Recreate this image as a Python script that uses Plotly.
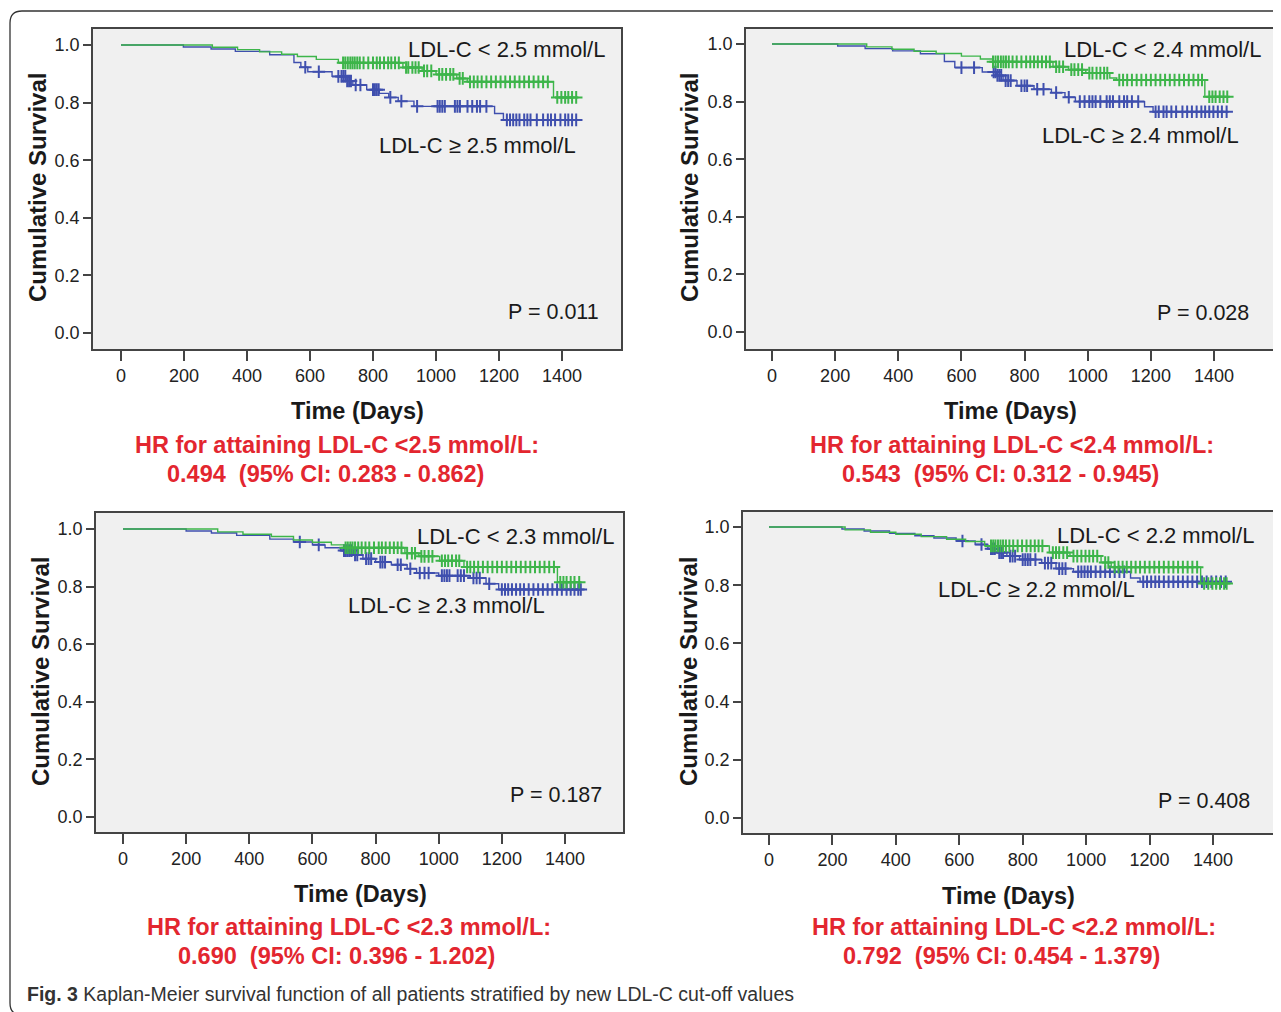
import plotly.graph_objects as go

W, H = 1281, 1012

# ---------------- data ----------------
# Top-left panel: cut-off 2.5 mmol/L
tl_green_t = [0, 290, 370, 440, 510, 560, 620, 690, 895, 956, 1000, 1066, 1099, 1373, 1450]
tl_green_s = [1.0, 0.992, 0.984, 0.976, 0.968, 0.960, 0.950, 0.938, 0.922, 0.910, 0.898, 0.884, 0.872, 0.818, 0.818]
tl_blue_t = [0, 198, 286, 363, 472, 549, 571, 593, 670, 714, 736, 780, 820, 850, 880, 930, 1186, 1214, 1450]
tl_blue_s = [1.0, 0.993, 0.986, 0.978, 0.966, 0.939, 0.923, 0.907, 0.891, 0.875, 0.861, 0.845, 0.832, 0.818, 0.805, 0.787, 0.762, 0.740, 0.740]
tl_green_cens = [705, 712, 720, 728, 735, 742, 750, 758, 770, 785, 800, 812, 822, 835, 848, 858, 870, 882,
                 905, 912, 925, 935, 945, 962, 972, 985, 1010, 1020, 1032, 1045, 1055, 1075, 1085, 1108,
                 1120, 1132, 1145, 1160, 1175, 1190, 1205, 1220, 1235, 1250, 1265, 1280, 1295, 1310, 1325,
                 1340, 1355, 1385, 1398, 1410, 1420, 1432, 1445]
tl_blue_cens = [585, 628, 690, 700, 706, 712, 718, 724, 730, 745, 760, 800, 806, 812, 818, 855, 890, 940,
                1005, 1012, 1020, 1028, 1060, 1068, 1076, 1100, 1115, 1130, 1140, 1160, 1225, 1235, 1245,
                1255, 1265, 1280, 1290, 1300, 1320, 1340, 1355, 1365, 1378, 1395, 1410, 1420, 1432, 1445]

# Top-right panel: cut-off 2.4 mmol/L
tr_green_t = [0, 300, 380, 450, 520, 600, 660, 700, 890, 939, 994, 1070, 1092, 1371, 1447]
tr_green_s = [1.0, 0.990, 0.982, 0.975, 0.967, 0.958, 0.948, 0.938, 0.921, 0.911, 0.899, 0.882, 0.875, 0.817, 0.817]
tr_blue_t = [0, 208, 295, 382, 470, 546, 579, 666, 710, 732, 776, 830, 885, 928, 961, 1180, 1207, 1447]
tr_blue_s = [1.0, 0.993, 0.984, 0.976, 0.966, 0.939, 0.918, 0.903, 0.891, 0.873, 0.855, 0.843, 0.831, 0.815, 0.800, 0.782, 0.765, 0.765]
tr_green_cens = [700, 708, 716, 725, 733, 741, 750, 762, 775, 790, 805, 818, 830, 842, 855, 868, 880, 900,
                 910, 922, 948, 958, 970, 982, 1005, 1015, 1028, 1040, 1052, 1062, 1100, 1112, 1125, 1140,
                 1155, 1170, 1185, 1200, 1215, 1230, 1245, 1260, 1275, 1290, 1305, 1320, 1335, 1350, 1362,
                 1385, 1395, 1405, 1418, 1430, 1442]
tr_blue_cens = [600, 640, 702, 708, 714, 720, 726, 740, 748, 756, 790, 800, 808, 840, 860, 900, 940, 975,
                990, 1005, 1015, 1025, 1040, 1060, 1070, 1080, 1100, 1115, 1125, 1140, 1160, 1215, 1225,
                1240, 1250, 1265, 1280, 1300, 1315, 1330, 1345, 1360, 1372, 1385, 1398, 1412, 1425, 1440]

# Bottom-left panel: cut-off 2.3 mmol/L
bl_green_t = [0, 300, 380, 470, 540, 600, 660, 700, 893, 937, 1003, 1080, 1376, 1453]
bl_green_s = [1.0, 0.990, 0.982, 0.974, 0.962, 0.954, 0.945, 0.935, 0.916, 0.905, 0.890, 0.868, 0.815, 0.815]
bl_blue_t = [0, 200, 280, 360, 465, 540, 600, 640, 690, 730, 760, 800, 850, 900, 930, 1000, 1100, 1150, 1190, 1453]
bl_blue_s = [1.0, 0.993, 0.986, 0.978, 0.965, 0.955, 0.945, 0.935, 0.925, 0.910, 0.897, 0.885, 0.876, 0.862, 0.847, 0.838, 0.830, 0.810, 0.790, 0.790]
bl_green_cens = [705, 712, 720, 727, 735, 745, 756, 768, 780, 795, 810, 820, 832, 845, 858, 870, 882, 900,
                 915, 925, 945, 955, 968, 980, 1010, 1020, 1030, 1042, 1055, 1065, 1090, 1100, 1112, 1125,
                 1140, 1155, 1170, 1185, 1200, 1215, 1230, 1245, 1260, 1275, 1290, 1305, 1320, 1335, 1350,
                 1365, 1385, 1395, 1405, 1418, 1430, 1445]
bl_blue_cens = [560, 620, 700, 706, 712, 718, 724, 735, 742, 770, 778, 786, 815, 822, 830, 870, 880, 910,
                940, 955, 968, 1010, 1018, 1026, 1034, 1060, 1070, 1080, 1110, 1120, 1130, 1160, 1200, 1210,
                1220, 1232, 1245, 1258, 1270, 1285, 1300, 1315, 1330, 1345, 1360, 1375, 1390, 1405, 1418,
                1430, 1442, 1450]

# Bottom-right panel: cut-off 2.2 mmol/L
br_green_t = [0, 240, 320, 400, 480, 560, 620, 680, 884, 949, 1047, 1079, 1361, 1443]
br_green_s = [1.0, 0.990, 0.982, 0.975, 0.967, 0.958, 0.950, 0.935, 0.912, 0.900, 0.878, 0.862, 0.806, 0.806]
br_blue_t = [0, 230, 300, 380, 460, 520, 590, 650, 690, 720, 750, 790, 860, 905, 960, 1140, 1170, 1443]
br_blue_s = [1.0, 0.993, 0.986, 0.978, 0.970, 0.962, 0.952, 0.940, 0.925, 0.912, 0.900, 0.888, 0.876, 0.857, 0.846, 0.825, 0.812, 0.812]
br_green_cens = [700, 707, 714, 722, 730, 738, 747, 758, 770, 784, 798, 812, 825, 838, 850, 862, 895, 905,
                 915, 928, 940, 960, 972, 985, 998, 1010, 1022, 1035, 1060, 1070, 1090, 1102, 1115, 1128,
                 1142, 1156, 1170, 1185, 1200, 1215, 1230, 1245, 1260, 1275, 1290, 1305, 1320, 1335, 1350,
                 1372, 1385, 1398, 1410, 1422, 1435, 1443]
br_blue_cens = [610, 670, 700, 706, 712, 726, 732, 738, 760, 768, 776, 800, 808, 816, 824, 840, 870, 880,
                890, 915, 925, 935, 975, 985, 995, 1005, 1015, 1030, 1045, 1060, 1075, 1090, 1105, 1120,
                1180, 1192, 1205, 1218, 1230, 1245, 1260, 1275, 1290, 1305, 1320, 1335, 1350, 1365, 1380,
                1395, 1410, 1425, 1440]

x_ticks = [0, 200, 400, 600, 800, 1000, 1200, 1400]
y_ticks = [0.0, 0.2, 0.4, 0.6, 0.8, 1.0]
y_ticklabels = ["0.0", "0.2", "0.4", "0.6", "0.8", "1.0"]

cutoffs = ["2.5", "2.4", "2.3", "2.2"]
p_values = ["0.011", "0.028", "0.187", "0.408"]
hr_values = ["0.494", "0.543", "0.690", "0.792"]
ci_low = ["0.283", "0.312", "0.396", "0.454"]
ci_high = ["0.862", "0.945", "1.202", "1.379"]

# ---------------- layout geometry (window pixels) ----------------
OFF = 8  # the page body margin that offsets the figure inside the window
panels = [
    dict(box=(93, 621, 29, 349), tx=(121, 562), sy=(45, 333)),
    dict(box=(746, 1273, 29, 349), tx=(772, 1214), sy=(44, 332)),
    dict(box=(96, 623, 513, 832), tx=(123, 565), sy=(529, 817)),
    dict(box=(743, 1273, 512, 833), tx=(769, 1213), sy=(527, 818)),
]
text_pos = [
    dict(lt=(506, 50), ge=(477, 145), p=(553, 312), xt=(357, 411), yt=(38, 188), hr1=(337, 445), hr2=(325, 474)),
    dict(lt=(1162, 50), ge=(1140, 135), p=(1203, 313), xt=(1010, 411), yt=(690, 188), hr1=(1012, 445), hr2=(1000, 474)),
    dict(lt=(515, 536), ge=(446, 605), p=(556, 795), xt=(360, 894), yt=(40, 672), hr1=(349, 927), hr2=(336, 956)),
    dict(lt=(1155, 535), ge=(1036, 589), p=(1204, 801), xt=(1008, 896), yt=(688, 672), hr1=(1014, 927), hr2=(1001, 956)),
]

series = [
    (tl_green_t, tl_green_s, tl_green_cens, tl_blue_t, tl_blue_s, tl_blue_cens),
    (tr_green_t, tr_green_s, tr_green_cens, tr_blue_t, tr_blue_s, tr_blue_cens),
    (bl_green_t, bl_green_s, bl_green_cens, bl_blue_t, bl_blue_s, bl_blue_cens),
    (br_green_t, br_green_s, br_green_cens, br_blue_t, br_blue_s, br_blue_cens),
]

GREEN = "#3DB54A"
BLUE = "#3F4FAE"
FONT = "Liberation Sans, Arial, sans-serif"
RED = "#E3262F"


def step_value(ts, ss, c):
    v = ss[0]
    for t, s in zip(ts, ss):
        if t <= c:
            v = s
    return v


fig = go.Figure()
layout = dict(
    width=W, height=H, margin=dict(l=0, r=0, t=0, b=0),
    paper_bgcolor="white", plot_bgcolor="#F0F0F0", showlegend=False,
    font=dict(family=FONT, color="#222"),
)
annotations = []
shapes = []


def px2x(px):
    return (px - OFF) / W


def py2y(py):
    return 1 - (py - OFF) / H


def ann(text, px, py, size, color="#1a1a1a", xanchor="center", textangle=0, family=FONT):
    annotations.append(dict(
        text=text, x=px2x(px), y=py2y(py), xref="paper", yref="paper",
        xanchor=xanchor, yanchor="middle", showarrow=False, textangle=textangle,
        font=dict(size=size, color=color, family=family)))


for i, (pan, tp, ser) in enumerate(zip(panels, text_pos, series)):
    n = "" if i == 0 else str(i + 1)
    x0, x1, y0, y1 = pan["box"]
    t0px, t1400px = pan["tx"]
    s1py, s0py = pan["sy"]
    xs = (t1400px - t0px) / 1400.0
    ys = (s0py - s1py)
    xr = [-(t0px - x0) / xs, (x1 - t0px) / xs]
    yr = [-(y1 - s0py) / ys, (s0py - y0) / ys]
    layout["xaxis" + n] = dict(
        domain=[px2x(x0), px2x(x1)], range=xr, anchor="y" + n,
        tickvals=x_ticks, ticktext=[str(v) for v in x_ticks], ticks="outside", ticklen=10,
        tickwidth=1.5, tickcolor="#444", showline=True, linecolor="#444", linewidth=1.6,
        mirror=True, showgrid=False, zeroline=False, tickfont=dict(size=18, family=FONT, color="#222"),
    )
    layout["yaxis" + n] = dict(
        domain=[py2y(y1), py2y(y0)], range=yr, anchor="x" + n,
        tickvals=y_ticks, ticktext=y_ticklabels, ticks="outside", ticklen=8,
        tickwidth=1.5, tickcolor="#444", showline=True, linecolor="#444", linewidth=1.6,
        mirror=True, showgrid=False, zeroline=False, tickfont=dict(size=18, family=FONT, color="#222"),
    )
    gt, gs, gc, bt, bs, bc = ser
    for (ts, ss, cs, col) in [(bt, bs, bc, BLUE), (gt, gs, gc, GREEN)]:
        fig.add_trace(go.Scatter(x=ts, y=ss, mode="lines", line=dict(color=col, width=1.4, shape="hv"),
                                 xaxis="x" + n, yaxis="y" + n, hoverinfo="skip"))
        fig.add_trace(go.Scatter(x=cs, y=[step_value(ts, ss, c) for c in cs], mode="markers",
                                 marker=dict(symbol="cross-thin", size=9, line=dict(color=col, width=2)),
                                 xaxis="x" + n, yaxis="y" + n, hoverinfo="skip"))

    ann("LDL-C &lt; %s mmol/L" % cutoffs[i], *tp["lt"], 22)
    ann("LDL-C ≥ %s mmol/L" % cutoffs[i], *tp["ge"], 22)
    ann("P = %s" % p_values[i], *tp["p"], 21.5)
    ann("<b>Time (Days)</b>", *tp["xt"], 23.5)
    ann("<b>Cumulative Survival</b>", *tp["yt"], 24, textangle=-90)
    ann("<b>HR for attaining LDL-C &lt;%s mmol/L:</b>" % cutoffs[i], *tp["hr1"], 23.5, color=RED)
    ann("<b>%s  (95%% CI: %s - %s)</b>" % (hr_values[i], ci_low[i], ci_high[i]), *tp["hr2"], 23.5, color=RED)

ann("<b>Fig. 3</b> Kaplan-Meier survival function of all patients stratified by new LDL-C cut-off values",
    25, 994, 19.5, color="#333", xanchor="left")

# outer rounded frame (bottom edge lies just below the visible window)
r = 12
path = ("M {a} {b} L {c} {b} Q {d} {b} {d} {e} L {d} {f} Q {d} {g} {c} {g} L {a} {g}").format(
    a=px2x(1290), b=py2y(11), c=px2x(10 + r), d=px2x(10), e=py2y(11 + r), f=py2y(1015 - r), g=py2y(1015))
shapes.append(dict(type="path", path=path, xref="paper", yref="paper", line=dict(color="#333", width=1.3)))

layout["annotations"] = annotations
layout["shapes"] = shapes
fig.update_layout(**layout)
fig.write_html("out.html")
